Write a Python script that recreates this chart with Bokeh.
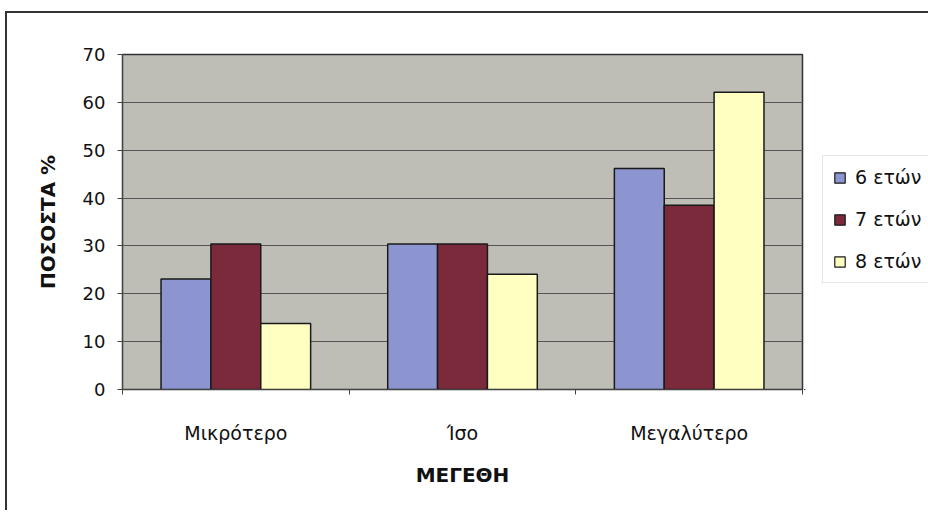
from bokeh.plotting import figure
from bokeh.layouts import row
from bokeh.models import ColumnDataSource, FixedTicker, Legend, LegendItem, Range1d
from bokeh.embed import file_html
from bokeh.resources import INLINE

categories = ["Μικρότερο", "Ίσο", "Μεγαλύτερο"]
series_names = ["6 ετών", "7 ετών", "8 ετών"]
values_6 = [23.1, 30.4, 46.2]
values_7 = [30.4, 30.4, 38.5]
values_8 = [13.8, 24.1, 62.1]
y_ticks = [0, 10, 20, 30, 40, 50, 60, 70]

colors = ["#8d95d0", "#7b2a3c", "#ffffc2"]
offsets = [-0.22, 0.0, 0.22]
bar_w = 0.22

FONT = "DejaVu Sans"

p = figure(width=797, height=497, output_backend="svg", toolbar_location=None,
           x_range=(0, 3), y_range=(0, 70),
           min_border_left=115, min_border_right=2, min_border_top=41, min_border_bottom=121,
           background_fill_color="#bebeb6", border_fill_color="white",
           outline_line_color="#333333", outline_line_width=1.5)

centers = [i + 0.5 for i in range(len(categories))]
sources = []
for vals, off, col in zip([values_6, values_7, values_8], offsets, colors):
    src = ColumnDataSource(dict(x=[c + off for c in centers], top=vals))
    sources.append(src)
    p.vbar(x="x", top="top", bottom=0, width=bar_w, source=src,
           fill_color=col, line_color="#1a1a1a", line_width=1.5)

# x axis
p.xaxis.ticker = FixedTicker(ticks=centers, minor_ticks=[0, 1, 2, 3])
p.xaxis.major_label_overrides = {c: cat for c, cat in zip(centers, categories)}
p.xaxis.major_tick_line_color = None
p.xaxis.minor_tick_out = 5
p.xaxis.minor_tick_in = 0
p.xaxis.minor_tick_line_color = "#444444"
p.xaxis.axis_line_color = "#444444"
p.xaxis.major_label_standoff = 26
p.xaxis.major_label_text_font = FONT
p.xaxis.major_label_text_font_size = "19px"
p.xaxis.major_label_text_color = "#111111"
p.xaxis.axis_label = "ΜΕΓΕΘΗ"
p.xaxis.axis_label_text_font = FONT
p.xaxis.axis_label_text_font_size = "20px"
p.xaxis.axis_label_text_font_style = "bold"
p.xaxis.axis_label_text_color = "#111111"
p.xaxis.axis_label_standoff = 16

# y axis
p.yaxis.ticker = FixedTicker(ticks=y_ticks, minor_ticks=[])
p.yaxis.major_tick_out = 5
p.yaxis.major_tick_in = 0
p.yaxis.major_tick_line_color = "#444444"
p.yaxis.axis_line_color = "#444444"
p.yaxis.major_label_standoff = 12
p.yaxis.major_label_text_font = FONT
p.yaxis.major_label_text_font_size = "18px"
p.yaxis.major_label_text_color = "#111111"
p.yaxis.axis_label = "ΠΟΣΟΣΤΑ %"
p.yaxis.axis_label_text_font = FONT
p.yaxis.axis_label_text_font_size = "20px"
p.yaxis.axis_label_text_font_style = "bold"
p.yaxis.axis_label_text_color = "#111111"
p.yaxis.axis_label_standoff = 20

p.xgrid.grid_line_color = None
p.ygrid.grid_line_color = "#555555"
p.ygrid.grid_line_width = 1

# legend panel: a second figure whose view shows none of the bars, only the legend
pl = figure(width=124, height=497, output_backend="svg", toolbar_location=None,
            x_range=Range1d(100, 101), y_range=Range1d(100, 101),
            x_axis_location=None, y_axis_location=None,
            min_border=0, background_fill_color="white", border_fill_color="white",
            outline_line_color=None)
pl.xgrid.visible = False
pl.ygrid.visible = False
items = []
for src, col, name in zip(sources, colors, series_names):
    r = pl.vbar(x="x", top="top", bottom=0, width=bar_w, source=src,
                fill_color=col, line_color="#1a1a1a", line_width=1.2)
    items.append(LegendItem(label=name, renderers=[r]))

legend = Legend(items=items, location=(18, 106),
                label_text_font=FONT, label_text_font_size="19px",
                label_text_color="#111111",
                glyph_width=13, glyph_height=13, label_height=20,
                label_standoff=9, spacing=20, padding=10, margin=0,
                border_line_color="#cccccc", border_line_width=1,
                background_fill_color="white", background_fill_alpha=1.0)
pl.add_layout(legend, "center")

layout = row(p, pl, spacing=0,
             styles={"margin-top": "11px", "margin-left": "5px",
                     "border-top": "2px solid #333333",
                     "border-left": "2px solid #333333"})

open("out.html", "w").write(file_html(layout, INLINE))
